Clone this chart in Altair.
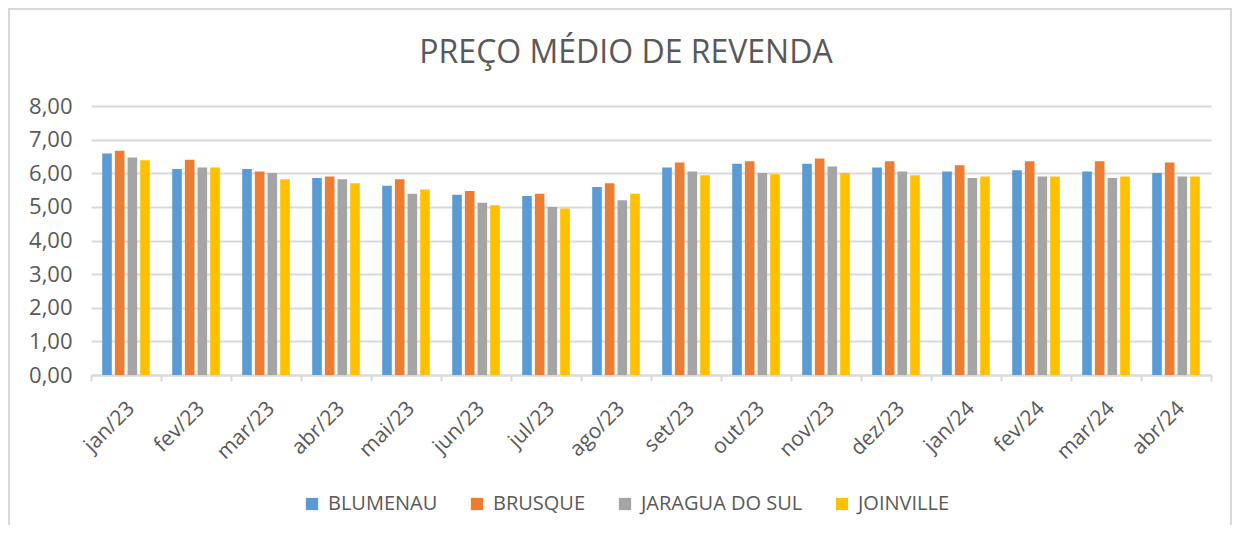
import altair as alt
import pandas as pd

months = ["jan/23", "fev/23", "mar/23", "abr/23", "mai/23", "jun/23", "jul/23", "ago/23",
          "set/23", "out/23", "nov/23", "dez/23", "jan/24", "fev/24", "mar/24", "abr/24"]
cities = ["BLUMENAU", "BRUSQUE", "JARAGUA DO SUL", "JOINVILLE"]
colors = ["#5B9BD5", "#ED7D31", "#A5A5A5", "#FFC000"]

blumenau = [6.59, 6.13, 6.13, 5.86, 5.63, 5.36, 5.32, 5.59, 6.17, 6.28, 6.28, 6.17, 6.05, 6.09, 6.05, 6.01]
brusque = [6.67, 6.40, 6.05, 5.90, 5.82, 5.47, 5.39, 5.70, 6.32, 6.36, 6.44, 6.36, 6.24, 6.36, 6.36, 6.32]
jaragua = [6.47, 6.17, 6.01, 5.82, 5.39, 5.12, 5.00, 5.20, 6.05, 6.01, 6.20, 6.05, 5.86, 5.90, 5.86, 5.90]
joinville = [6.39, 6.17, 5.82, 5.70, 5.52, 5.05, 4.95, 5.39, 5.94, 5.97, 6.01, 5.94, 5.90, 5.90, 5.90, 5.90]

title_text = "PREÇO MÉDIO DE REVENDA"

rows = []
for city, vals in zip(cities, [blumenau, brusque, jaragua, joinville]):
    for m, v in zip(months, vals):
        rows.append({"mes": m, "cidade": city, "valor": v})
df = pd.DataFrame(rows)

FONT = "Open Sans"
GREY_TXT = "#595959"
GRID = "#D9D9D9"

bars = alt.Chart(df).mark_bar().encode(
    x=alt.X("mes:N", sort=months,
            scale=alt.Scale(paddingInner=0, paddingOuter=0),
            axis=alt.Axis(title=None, labelAngle=-45, labelAlign="right", labelBaseline="middle",
                          labelFont=FONT, labelFontSize=21, labelColor=GREY_TXT,
                          labelPadding=24, labelOffset=5, tickBand="extent", tickSize=6,
                          tickColor=GRID, tickWidth=2, domainColor=GRID, domainWidth=2,
                          grid=False)),
    xOffset=alt.XOffset("cidade:N", sort=cities,
                        scale=alt.Scale(paddingInner=0.24, paddingOuter=0.885)),
    y=alt.Y("valor:Q",
            scale=alt.Scale(domain=[0, 8], nice=False),
            axis=alt.Axis(title=None, values=[0, 1, 2, 3, 4, 5, 6, 7, 8],
                          labelExpr="replace(format(datum.value, '.2f'), '.', ',')",
                          labelFont=FONT, labelFontSize=22, labelColor=GREY_TXT,
                          labelPadding=19, ticks=False, domain=False,
                          gridColor=GRID, gridWidth=2)),
    color=alt.Color("cidade:N", sort=cities,
                    scale=alt.Scale(domain=cities, range=colors),
                    legend=alt.Legend(title=None, orient="none", direction="horizontal",
                                      legendX=211, legendY=388, symbolType="square",
                                      symbolSize=150, symbolStrokeWidth=0,
                                      labelFont=FONT, labelFontSize=20, labelColor=GREY_TXT,
                                      labelOffset=6, labelLimit=400, columnPadding=29)),
)

frame = alt.Chart(pd.DataFrame({"k": [1]})).mark_rect(
    filled=False, stroke=GRID, strokeWidth=2
).encode(x=alt.value(-82), x2=alt.value(1140), y=alt.value(-97), y2=alt.value(700))

title = alt.Chart(pd.DataFrame({"t": [title_text]})).mark_text(
    font=FONT, fontSize=32, color=GREY_TXT, baseline="alphabetic", align="center"
).encode(text="t:N", x=alt.value(535), y=alt.value(-43))

chart = alt.layer(frame, title, bars).properties(
    width=1120, height=269,
    padding={"left": 83, "top": 98, "right": 21, "bottom": 150},
    autosize=alt.AutoSizeParams(type="none"),
).configure_view(stroke=None)

chart.save("out.html", embed_options={"renderer": "svg", "actions": False})
